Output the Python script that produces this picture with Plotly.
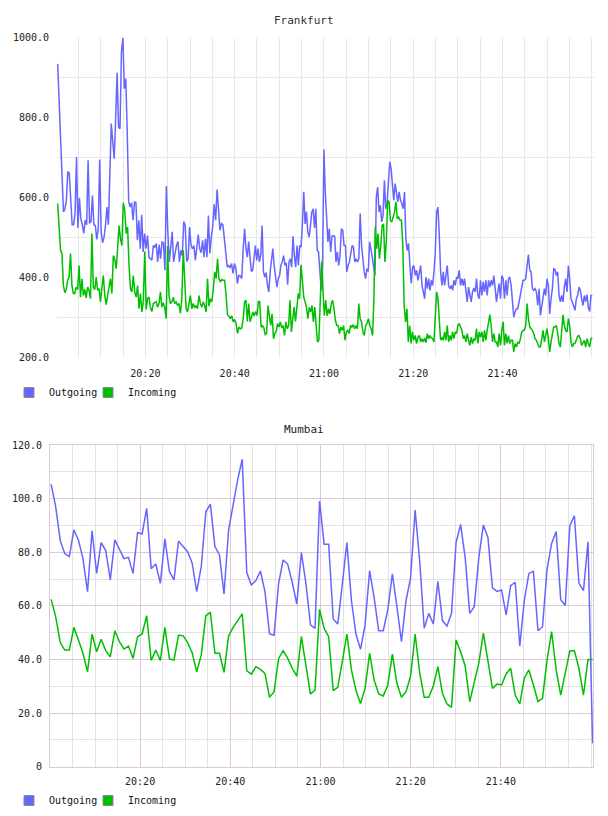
import pandas as pd
import plotly.graph_objects as go

DAY = "2014-06-10 "

# ---------------- Frankfurt (samples, three consecutive blocks) ----------------
fra_block_start = ["20:00:21", "20:42:32", "21:21:40"]
fra_block_end = ["20:42:14", "21:21:22", "22:00:07"]

fra_out_1 = [934, 850, 764, 660, 564, 572, 593, 665, 660, 597, 532, 532, 560, 701, 524, 599, 547, 532, 510, 543,
             532, 693, 537, 539, 605, 532, 530, 495, 522, 695, 514, 487, 501, 530, 576, 532, 680, 785, 740, 697,
             797, 912, 776, 772, 964, 1000, 872, 897, 764, 589, 576, 587, 543, 589, 587, 493, 543, 472, 557, 464,
             510, 472, 505, 451, 447, 443, 480, 476, 485, 439, 482, 447, 489, 487, 418, 629, 515, 439, 476, 514,
             439, 460, 480, 490, 439, 468, 455, 540, 530, 440, 447, 526, 480, 472, 480, 443, 472, 507, 472, 462,
             493, 451, 497, 451, 555, 460, 501, 528, 583, 543, 620, 572, 518, 535, 532, 497, 468, 426, 430, 424,
             435, 410, 435, 422, 385, 405, 404, 397, 472, 522]
fra_out_2 = [472, 451, 490, 439, 415, 418, 457, 480, 443, 472, 439, 455, 530, 415, 401, 412, 380, 364, 414, 439,
             472, 430, 405, 376, 397, 405, 430, 439, 455, 430, 437, 382, 439, 447, 426, 503, 455, 426, 480, 430,
             480, 476, 534, 614, 534, 564, 514, 501, 530, 564, 572, 524, 572, 468, 464, 414, 368, 430, 720, 614,
             530, 489, 522, 464, 503, 505, 503, 439, 464, 430, 455, 522, 518, 480, 480, 414, 430, 439, 460, 480,
             476, 439, 447, 439, 447, 560, 480, 439, 414, 397, 422, 415, 489, 472, 447, 430, 405, 601, 626, 564,
             580, 539, 555, 643, 572, 585, 626, 689, 672, 618, 593, 635, 609, 589, 614, 593, 585, 572, 614, 497,
             468, 485, 430, 385, 426, 430, 405, 418, 393, 414]
fra_out_3 = [430, 380, 364, 347, 401, 372, 397, 368, 393, 380, 414, 464, 564, 576, 505, 414, 380, 414, 380, 414,
             430, 380, 372, 380, 368, 393, 380, 401, 397, 418, 380, 397, 380, 397, 364, 339, 376, 355, 339, 364,
             374, 364, 397, 355, 347, 393, 355, 389, 364, 393, 355, 393, 376, 393, 380, 405, 372, 339, 364, 385,
             347, 405, 397, 347, 393, 355, 397, 401, 380, 347, 301, 314, 322, 322, 339, 355, 372, 393, 393, 397,
             430, 457, 418, 414, 372, 368, 372, 364, 330, 372, 305, 330, 355, 372, 355, 397, 380, 309, 347, 372,
             422, 420, 405, 414, 355, 339, 355, 339, 376, 397, 364, 430, 397, 347, 339, 330, 318, 347, 355, 376,
             368, 347, 330, 355, 340, 357, 326, 315, 355, 355]

fra_in_1 = [585, 520, 468, 460, 380, 362, 370, 393, 401, 460, 380, 360, 360, 376, 370, 430, 351, 397, 355, 370,
            349, 376, 368, 347, 510, 376, 370, 401, 368, 372, 339, 376, 405, 355, 332, 355, 376, 397, 360, 455,
            445, 422, 472, 530, 497, 480, 587, 568, 510, 526, 430, 372, 364, 405, 364, 351, 380, 322, 360, 314,
            339, 465, 320, 347, 351, 324, 315, 335, 337, 339, 326, 335, 364, 326, 337, 326, 297, 479, 355, 335,
            339, 351, 335, 339, 330, 335, 310, 347, 468, 372, 322, 314, 339, 355, 322, 335, 324, 330, 322, 355,
            335, 326, 339, 330, 314, 397, 328, 347, 339, 368, 414, 397, 447, 397, 390, 395, 393, 393, 355, 307,
            304, 297, 304, 289, 295, 285, 260, 276, 272, 274, 297, 339]
fra_in_2 = [343, 290, 335, 289, 301, 314, 304, 315, 305, 340, 339, 276, 279, 274, 257, 260, 330, 305, 280, 309,
            247, 260, 265, 285, 276, 289, 274, 280, 255, 289, 272, 280, 343, 264, 289, 326, 290, 322, 360, 347,
            432, 393, 351, 339, 324, 297, 326, 314, 330, 289, 326, 280, 239, 243, 347, 440, 364, 305, 343, 304,
            322, 309, 335, 343, 322, 293, 280, 280, 260, 276, 268, 280, 243, 264, 268, 260, 280, 276, 282, 272,
            280, 272, 335, 297, 289, 264, 255, 280, 285, 297, 280, 272, 255, 347, 526, 472, 510, 447, 480, 530,
            534, 439, 489, 593, 589, 543, 539, 551, 564, 589, 547, 551, 543, 543, 480, 330, 289, 322, 239, 280,
            235, 264, 243, 255, 235, 251, 255]
fra_in_3 = [239, 247, 239, 249, 237, 260, 247, 255, 249, 247, 239, 305, 364, 347, 280, 243, 251, 243, 264, 243,
            280, 239, 255, 243, 264, 247, 264, 260, 280, 285, 276, 268, 247, 255, 239, 260, 243, 230, 251, 235,
            247, 243, 272, 235, 264, 251, 264, 239, 268, 243, 268, 285, 307, 280, 239, 260, 239, 239, 226, 260,
            230, 268, 289, 230, 260, 235, 255, 235, 243, 243, 214, 235, 226, 239, 235, 247, 264, 268, 268, 280,
            335, 297, 276, 272, 268, 260, 247, 243, 235, 226, 226, 247, 268, 239, 260, 272, 247, 214, 239, 264,
            276, 276, 280, 260, 235, 226, 264, 307, 280, 268, 264, 297, 280, 239, 226, 235, 235, 247, 253, 255,
            247, 230, 239, 243, 226, 247, 235, 226, 247, 249]

# ---------------- Mumbai (one sample about every minute) ----------------
mum_start = "20:00:16"
mum_step_ms = 60540
mum_out = [105.3, 97, 84.3, 79.5, 78.4, 88.3, 84.6, 77.5, 65.3, 88, 72.1, 83.6, 80.6, 69.7, 84.6, 80.8, 77.6, 78.1,
           72.1, 87.4, 86.8, 96.4, 73.8, 75.6, 68.4, 85, 72.8, 69.7, 84.2, 82.1, 80.2, 75.9, 65.3, 74.6, 95.1, 97.9,
           82.1, 79, 64.4, 88.3, 98.3, 107, 114.7, 72.4, 67.8, 69.4, 73, 65.3, 49.5, 49, 68.4, 77.1, 75.5, 68.7,
           60.7, 79.9, 68.4, 52.9, 51.6, 99.1, 83, 83, 55.1, 53.2, 68, 83.6, 62, 49.4, 43.8, 52.9, 73.1, 63, 50.7,
           50.7, 58.5, 71.9, 59.7, 46.6, 62, 70.3, 95.7, 76.8, 51.6, 57.2, 53.2, 69.1, 54.5, 52.5, 57.2, 83.6, 90.4,
           78, 57.2, 59.7, 78, 90.2, 85.5, 66.7, 65.4, 65.9, 56.6, 67.5, 68.8, 45, 62, 72.1, 72.9, 50.7, 52.2, 73.7,
           83.3, 87.7, 62.3, 60.1, 89.9, 93.6, 68.4, 65.7, 83.9, 8.7]
mum_in = [62.4, 56, 46.3, 43.5, 43.5, 52, 47.3, 42.3, 35.4, 49.5, 42.9, 47.5, 43.3, 41, 50.7, 46.6, 43.9, 45, 40.4,
          48.5, 49.5, 56.3, 39.6, 43.5, 39.6, 52, 40.2, 39.8, 49, 48.9, 46.3, 42.5, 35.4, 41.7, 56.3, 57.6, 42.3,
          42.3, 35.2, 48.8, 52, 54.7, 57, 35.8, 34.5, 37.3, 36.3, 34.8, 25.9, 28, 40.4, 43.3, 40.4, 36.7, 33.8, 48.5,
          37.3, 27.1, 28.6, 58.7, 51.6, 48.5, 28.4, 29.6, 39.2, 49.5, 36.1, 28.4, 23.6, 29.2, 42.3, 32.3, 27.1, 26.4,
          30.5, 42, 31.1, 25.9, 28, 33.8, 49.5, 35.1, 25.9, 25.9, 30.1, 37.3, 27.4, 23.4, 22.1, 47.3, 42.9, 37.6,
          24.3, 31.7, 38.6, 49.8, 39.2, 29.2, 30.8, 30.5, 34.6, 36.7, 26.7, 23.4, 33, 36.1, 30.5, 24.3, 25.5, 39.8,
          50.4, 36.1, 26.7, 34.8, 43.2, 43.3, 36.7, 26.7, 40, 40]

# ---------------- axes text ----------------
time_ticks = ["20:20", "20:40", "21:00", "21:20", "21:40"]
fra_yticks = [200, 400, 600, 800, 1000]
fra_yticktext = ["200.0", "400.0", "600.0", "800.0", "1000.0"]
fra_ygrid = [300, 500, 700, 900]
mum_yticks = [0, 20, 40, 60, 80, 100, 120]
mum_yticktext = ["0", "20.0", "40.0", "60.0", "80.0", "100.0", "120.0"]
series_names = ["Outgoing", "Incoming"]

BLUE = "#6666ff"
GREEN = "#00bf00"
FONT = "DejaVu Sans Mono"
W, H = 608, 816


def block_times(starts, ends, blocks):
    out = []
    for s, e, b in zip(starts, ends, blocks):
        out.extend(pd.date_range(pd.Timestamp(DAY + s), pd.Timestamp(DAY + e), periods=len(b)))
    return out


fra_out = fra_out_1 + fra_out_2 + fra_out_3
fra_in = fra_in_1 + fra_in_2 + fra_in_3
fra_out_t = block_times(fra_block_start, fra_block_end, [fra_out_1, fra_out_2, fra_out_3])
fra_in_t = block_times(fra_block_start, fra_block_end, [fra_in_1, fra_in_2, fra_in_3])
mum_t = pd.date_range(pd.Timestamp(DAY + mum_start), periods=len(mum_out), freq=f"{mum_step_ms}ms")

fig = go.Figure()
fig.add_trace(go.Scatter(x=fra_out_t, y=fra_out, mode="lines", line=dict(color=BLUE, width=1.5),
                         showlegend=False, xaxis="x", yaxis="y"))
fig.add_trace(go.Scatter(x=fra_in_t, y=fra_in, mode="lines", line=dict(color=GREEN, width=1.5),
                         showlegend=False, xaxis="x", yaxis="y"))
fig.add_trace(go.Scatter(x=mum_t, y=mum_out, mode="lines", line=dict(color=BLUE, width=1.5),
                         showlegend=False, xaxis="x2", yaxis="y2"))
fig.add_trace(go.Scatter(x=mum_t, y=mum_in, mode="lines", line=dict(color=GREEN, width=1.5),
                         showlegend=False, xaxis="x2", yaxis="y2"))

# legend swatches (plus an empty spacer entry so the last label is not clipped)
for lg in ["legend", "legend2"]:
    xa = "x" if lg == "legend" else "x2"
    ya = "y" if lg == "legend" else "y2"
    for name, col in zip(series_names, [BLUE, GREEN]):
        fig.add_trace(go.Scatter(x=[None], y=[None], mode="markers", name=name, legend=lg,
                                 marker=dict(symbol="square", size=10, color=col,
                                             line=dict(color="#8c8c8c", width=1)),
                                 xaxis=xa, yaxis=ya))
    fig.add_trace(go.Scatter(x=[None], y=[None], mode="markers", name=" ", legend=lg,
                             marker=dict(symbol="square", size=10, color="rgba(0,0,0,0)",
                                         line=dict(width=0)),
                             xaxis=xa, yaxis=ya))

tick_dates = [DAY + t for t in time_ticks]
FGRID = "#e8e8e8"
PINK = "#dfc6df"
MGRID = "#e2e2e2"
tickfont = dict(family=FONT, size=10, color="#222")

fig.update_layout(
    width=W, height=H, margin=dict(l=0, r=0, t=0, b=0, autoexpand=False),
    paper_bgcolor="white", plot_bgcolor="white",
    font=dict(family=FONT, size=10, color="#222"),
    xaxis=dict(domain=[57 / W, 594 / W], range=[DAY + "20:00:12", DAY + "22:00:30"],
               tickmode="array", tickvals=tick_dates, ticktext=time_ticks, tickfont=tickfont,
               showgrid=True, gridcolor=FGRID, gridwidth=1, zeroline=False, showline=False,
               ticks="outside", ticklen=6, tickcolor="rgba(0,0,0,0)",
               minor=dict(tick0=DAY + "20:00", dtick=300000, showgrid=True, gridcolor=FGRID, ticks=""),
               fixedrange=True),
    yaxis=dict(domain=[1 - 357.5 / H, 1 - 37.5 / H], range=[200, 1000],
               tickmode="array", tickvals=fra_yticks, ticktext=fra_yticktext, tickfont=tickfont,
               showgrid=False, zeroline=False, showline=False,
               ticks="outside", ticklen=5, tickcolor="rgba(0,0,0,0)",
               minor=dict(tickmode="array", tickvals=fra_ygrid, showgrid=True, gridcolor=FGRID, ticks=""),
               fixedrange=True),
    xaxis2=dict(domain=[50 / W, 593 / W], range=[DAY + "20:00:01", DAY + "22:00:26"], anchor="y2",
                tickmode="array", tickvals=tick_dates, ticktext=time_ticks, tickfont=tickfont,
                showgrid=True, gridcolor=PINK, zeroline=False, showline=True, linecolor=PINK, mirror=True,
                ticks="outside", ticklen=5, tickcolor="rgba(0,0,0,0)",
                minor=dict(tick0=DAY + "20:00", dtick=300000, showgrid=True, gridcolor=MGRID, ticks=""),
                fixedrange=True),
    yaxis2=dict(domain=[1 - 766.7 / H, 1 - 445 / H], range=[0, 120], anchor="x2",
                tickmode="array", tickvals=mum_yticks, ticktext=mum_yticktext, tickfont=tickfont,
                showgrid=True, gridcolor=PINK, zeroline=False, showline=True, linecolor=PINK, mirror=True,
                ticks="outside", ticklen=5, tickcolor="rgba(0,0,0,0)",
                minor=dict(tick0=0, dtick=10, showgrid=True, gridcolor=MGRID, ticks=""),
                fixedrange=True),
    legend=dict(orientation="h", x=9 / W, xanchor="left", y=1 - 378 / H, yanchor="top",
                font=dict(family=FONT, size=10, color="#111"), entrywidth=34, entrywidthmode="pixels",
                bgcolor="rgba(0,0,0,0)", itemclick=False, itemdoubleclick=False),
    legend2=dict(orientation="h", x=9 / W, xanchor="left", y=1 - 786 / H, yanchor="top",
                 font=dict(family=FONT, size=10, color="#111"), entrywidth=34, entrywidthmode="pixels",
                 bgcolor="rgba(0,0,0,0)", itemclick=False, itemdoubleclick=False),
    annotations=[
        dict(text="Frankfurt", x=0.5, y=1 - 20.5 / H, xref="paper", yref="paper", showarrow=False,
             xanchor="center", yanchor="middle", font=dict(family=FONT, size=11, color="#333")),
        dict(text="Mumbai", x=0.5, y=1 - 429 / H, xref="paper", yref="paper", showarrow=False,
             xanchor="center", yanchor="middle", font=dict(family=FONT, size=11, color="#222")),
    ],
)

fig.write_html("out.html", config={"displayModeBar": False})
